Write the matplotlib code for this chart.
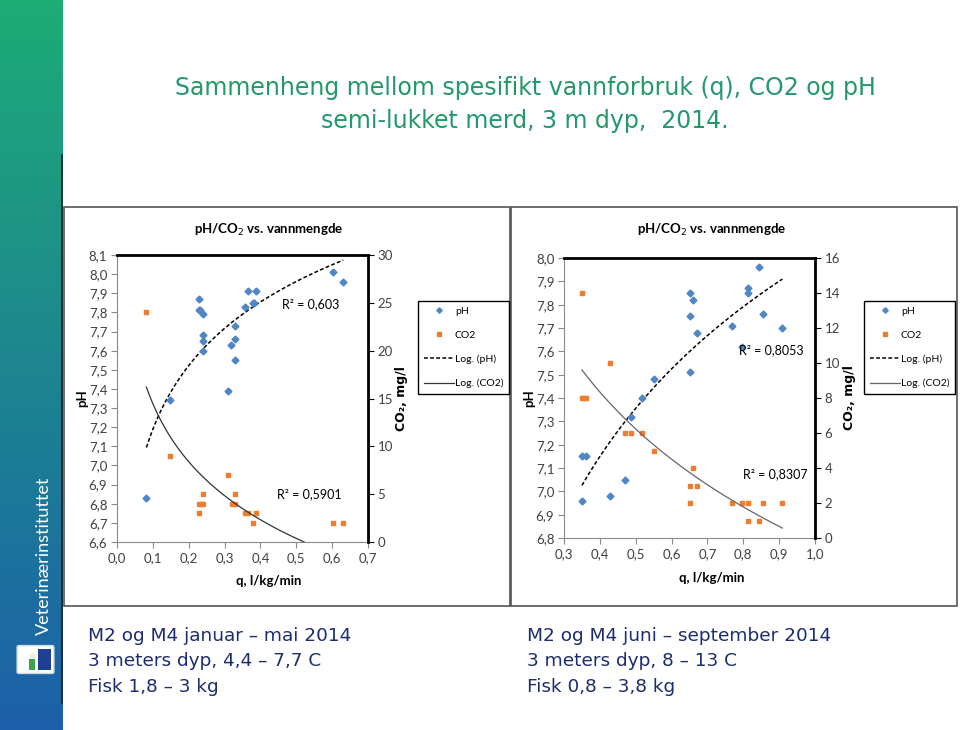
import numpy as np
import matplotlib
matplotlib.use("Agg")
import matplotlib.pyplot as plt
from matplotlib.patches import Rectangle, FancyBboxPatch, Circle
from matplotlib.ticker import FuncFormatter

# left chart: jan - mai
left_ph_q = [0.082, 0.149, 0.228, 0.228, 0.231, 0.240, 0.239, 0.239, 0.239, 0.309, 0.318,
             0.328, 0.328, 0.330, 0.358, 0.366, 0.380, 0.382, 0.389, 0.601, 0.631]
left_ph = [6.83, 7.34, 7.87, 7.81, 7.81, 7.79, 7.68, 7.65, 7.60, 7.39, 7.63,
           7.66, 7.73, 7.55, 7.83, 7.91, 7.85, 7.85, 7.91, 8.01, 7.96]
left_co2_q = [0.082, 0.149, 0.228, 0.230, 0.235, 0.240, 0.239, 0.309, 0.321, 0.328,
              0.330, 0.358, 0.366, 0.380, 0.388, 0.601, 0.631]
left_co2 = [24, 9, 3, 4, 4, 4, 5, 7, 4, 4, 5, 3, 3, 2, 3, 2, 2]
left_r2 = ["R² = 0,603", "R² = 0,5901"]

# right chart: juni - september
right_ph_q = [0.350, 0.350, 0.360, 0.428, 0.470, 0.487, 0.517, 0.550, 0.651, 0.659,
              0.651, 0.651, 0.671, 0.768, 0.797, 0.812, 0.814, 0.843, 0.854, 0.909]
right_ph = [6.96, 7.15, 7.15, 6.98, 7.05, 7.32, 7.40, 7.48, 7.85, 7.82,
            7.75, 7.51, 7.68, 7.71, 7.62, 7.87, 7.85, 7.96, 7.76, 7.70]
right_co2_q = [0.350, 0.350, 0.355, 0.361, 0.428, 0.470, 0.487, 0.517, 0.550, 0.651,
               0.659, 0.671, 0.651, 0.768, 0.797, 0.814, 0.812, 0.843, 0.854, 0.909]
right_co2 = [14, 8, 8, 8, 10, 6, 6, 6, 5, 3, 4, 3, 2, 2, 2, 2, 1, 1, 2, 2]
right_r2 = ["R² = 0,8053", "R² = 0,8307"]

left_notes = ["M2 og M4 januar – mai 2014", "3 meters dyp, 4,4 – 7,7 C", "Fisk 1,8 – 3 kg"]
right_notes = ["M2 og M4 juni – september 2014", "3 meters dyp, 8 – 13 C", "Fisk 0,8 – 3,8 kg"]

W, H = 960, 730
fig = plt.figure(figsize=(9.6, 7.3), dpi=100)
fig.patch.set_facecolor("white")
chart_font = ["Lato", "DejaVu Sans"]


def fx(x):
    return x / W


def fy(y):
    return 1 - y / H


# side strip with gradient
strip = fig.add_axes([0, 0, fx(62), 1])
top = np.array([30, 172, 118]) / 255
bot = np.array([28, 96, 170]) / 255
t = np.linspace(0, 1, 200)[:, None]
grad = top[None, :] * (1 - t) + bot[None, :] * t
strip.imshow(grad[:, None, :], aspect="auto", extent=[0, 1, 0, 1])
strip.axis("off")
fig.text(fx(44), fy(556), "Veterinærinstituttet", rotation=90, color="white",
         fontsize=13, ha="center", va="center", family=chart_font)
fig.patches.append(FancyBboxPatch((fx(19), fy(672)), fx(33), 25 / H, boxstyle="round,pad=0.002",
                                  transform=fig.transFigure, facecolor="white", edgecolor="#cfd8e0"))
fig.patches.append(Rectangle((fx(38), fy(670)), fx(13), 21 / H, transform=fig.transFigure,
                             facecolor="#1f3f95", edgecolor="none"))
fig.patches.append(Rectangle((fx(29), fy(670)), fx(6), 11 / H, transform=fig.transFigure,
                             facecolor="#3aa54a", edgecolor="none"))
fig.patches.append(Circle((fx(33), fy(656)), 3.5 / W, transform=fig.transFigure,
                          facecolor="#e8f0e0", edgecolor="none"))
fig.lines.append(plt.Line2D([fx(62), fx(62)], [fy(155), fy(703)], transform=fig.transFigure,
                            color="#222222", lw=1.2))

# title
title_col = "#22996b"
fig.text(fx(525), fy(88), "Sammenheng mellom spesifikt vannforbruk (q), CO2 og pH",
         color=title_col, fontsize=17, ha="center", va="center")
fig.text(fx(525), fy(121), "semi-lukket merd, 3 m dyp,  2014.",
         color=title_col, fontsize=17, ha="center", va="center")

# notes under charts
for i, s in enumerate(left_notes):
    fig.text(fx(88), fy(636 + 25.5 * i), s, color="#1c2c6e", fontsize=13.3, va="center")
for i, s in enumerate(right_notes):
    fig.text(fx(527), fy(636 + 25.5 * i), s, color="#1c2c6e", fontsize=13.3, va="center")

# chart frames
for x0, x1 in [(64, 510), (511, 957)]:
    fig.patches.append(Rectangle((fx(x0), fy(606)), fx(x1 - x0), (606 - 207) / H,
                                 transform=fig.transFigure, facecolor="white",
                                 edgecolor="#555555", lw=1.2, zorder=-5))

comma = FuncFormatter(lambda v, p: f"{v:.1f}".replace(".", ","))


def log_fit(q, v):
    a, b = np.polyfit(np.log(q), v, 1)
    xs = np.linspace(min(q), max(q), 100)
    return xs, a * np.log(xs) + b


def chart(box, q_ph, ph, q_co2, co2, xlim, ylim, y2lim, y2step, r2, r2pos,
          leg_xy, co2_trend_col, panel_cx, xlabel_y, ylab_x, y2lab_x):
    ax = fig.add_axes(box)
    ax2 = ax.twinx()
    ax.patch.set_visible(False)
    ax2.patch.set_visible(False)

    h1, = ax.plot(q_ph, ph, "D", color="#4f86c6", ms=3.5, ls="none", zorder=4)
    h2, = ax2.plot(q_co2, co2, "s", color="#ed7d31", ms=3.5, ls="none")
    xs, ys = log_fit(q_ph, ph)
    h3, = ax.plot(xs, ys, color="black", ls=(0, (2.5, 1.5)), lw=1.1)
    xs2, ys2 = log_fit(q_co2, co2)
    h4, = ax2.plot(xs2, ys2, color=co2_trend_col, lw=0.9)

    ax.set_xlim(*xlim)
    ax.set_ylim(*ylim)
    ax2.set_ylim(*y2lim)
    ax.set_xticks(np.arange(xlim[0], xlim[1] + 0.001, 0.1))
    ax.set_yticks(np.arange(ylim[0], ylim[1] + 0.001, 0.1))
    ax2.set_yticks(np.arange(y2lim[0], y2lim[1] + 0.001, y2step))
    ax.xaxis.set_major_formatter(comma)
    ax.yaxis.set_major_formatter(comma)

    for a in (ax, ax2):
        for s in a.spines.values():
            s.set_visible(False)
    ax.spines["left"].set_visible(True)
    ax.spines["bottom"].set_visible(True)
    ax.spines["left"].set_color("#8a8a8a")
    ax.spines["bottom"].set_color("#8a8a8a")
    ax.spines["top"].set_visible(True)
    ax.spines["top"].set_color("black")
    ax.spines["top"].set_linewidth(2)
    ax2.spines["right"].set_visible(True)
    ax2.spines["right"].set_color("black")
    ax2.spines["right"].set_linewidth(2)

    ax.tick_params(axis="both", direction="out", length=4, color="#8a8a8a",
                   labelsize=9.5, labelcolor="#404040", pad=3)
    ax2.tick_params(axis="y", direction="out", length=4, color="black",
                    labelsize=9.5, labelcolor="#404040", pad=3)
    for lab in ax.get_xticklabels() + ax.get_yticklabels() + ax2.get_yticklabels():
        lab.set_family(chart_font)

    fig.text(fx(panel_cx), fy(230), "pH/CO$_2$ vs. vannmengde", fontsize=9.5,
             fontweight="bold", ha="center", va="center", family=chart_font)
    fig.text(fx(panel_cx), fy(xlabel_y), "q, l/kg/min", fontsize=9.5, fontweight="bold",
             ha="center", va="center", family=chart_font)
    fig.text(fx(ylab_x), (box[1] + box[3] / 2), "pH", fontsize=9.5, fontweight="bold",
             rotation=90, ha="center", va="center", family=chart_font)
    fig.text(fx(y2lab_x), (box[1] + box[3] / 2), "CO₂, mg/l", fontsize=9, fontweight="bold",
             rotation=90, ha="center", va="center", family=["DejaVu Sans"])

    for s, (px, py) in zip(r2, r2pos):
        fig.text(fx(px), fy(py), s, fontsize=9, ha="center", va="center", family=chart_font)

    leg = ax.legend([h1, h2, h3, h4], ["pH", "CO2", "Log. (pH)", "Log. (CO2)"],
                    loc="upper left", bbox_to_anchor=(fx(leg_xy[0]), fy(leg_xy[1])),
                    bbox_transform=fig.transFigure, borderaxespad=0, fancybox=False,
                    edgecolor="black", framealpha=1, prop={"family": chart_font, "size": 7.5},
                    handlelength=2.9, labelspacing=1.4, handletextpad=0.1, borderpad=0.55,
                    markerscale=0.8)
    leg.get_frame().set_linewidth(1.0)
    leg.set_zorder(10)
    return ax, ax2


chart([fx(117), fy(542), fx(368 - 117), (542 - 255) / H],
      left_ph_q, left_ph, left_co2_q, left_co2,
      (0.0, 0.7), (6.6, 8.1), (0, 30), 5, left_r2, [(311, 304), (309, 494)],
      (418, 301), "#333333", 269, 581, 82, 402)

chart([fx(564), fy(538), fx(815 - 564), (538 - 258) / H],
      right_ph_q, right_ph, right_co2_q, right_co2,
      (0.3, 1.0), (6.8, 8.0), (0, 16), 2, right_r2, [(771, 350), (775, 474)],
      (864, 301), "#666666", 712, 578, 529, 849)

fig.savefig("out.png", dpi=100)
